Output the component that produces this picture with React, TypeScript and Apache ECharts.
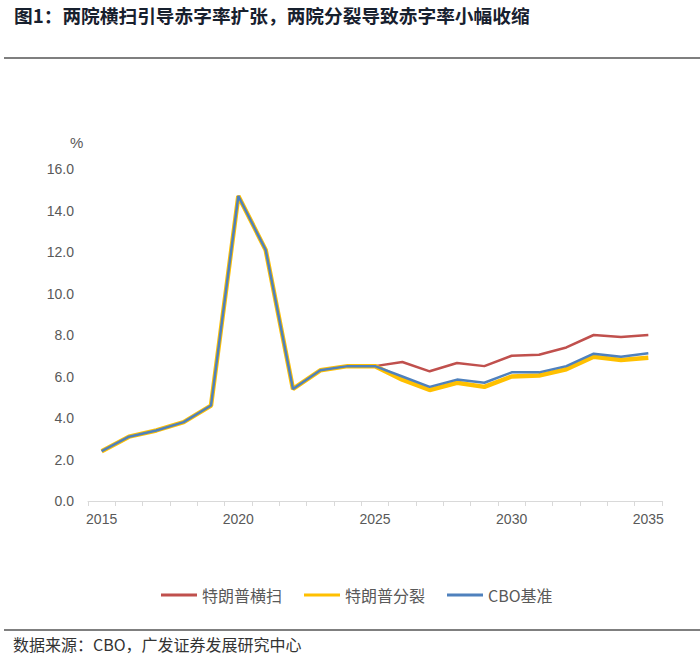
import React, { useEffect, useRef } from "react";
import * as echarts from "echarts";

const years = [
  "2015", "2016", "2017", "2018", "2019", "2020", "2021", "2022", "2023", "2024", "2025",
  "2026", "2027", "2028", "2029", "2030", "2031", "2032", "2033", "2034", "2035",
];
const common = [2.4, 3.1, 3.4, 3.8, 4.6, 14.7, 12.1, 5.4, 6.3, 6.5, 6.5];
const sweep = [6.7, 6.25, 6.65, 6.5, 7.0, 7.05, 7.4, 8.0, 7.9, 8.0];
const split = [5.85, 5.35, 5.7, 5.5, 6.0, 6.05, 6.35, 6.95, 6.8, 6.9];
const baseline = [6.0, 5.5, 5.85, 5.7, 6.2, 6.2, 6.5, 7.1, 6.95, 7.12];
const yTicks = { min: 0, max: 16, interval: 2 };

const seriesNames = ["特朗普横扫", "特朗普分裂", "CBO基准"];
const colors = ["#C0504D", "#FFC000", "#4F81BD"];

export default function App() {
  const ref = useRef<HTMLDivElement>(null);
  useEffect(() => {
    if (!ref.current) return;
    const chart = echarts.init(ref.current, null, { renderer: "svg" });
    const font = "'Noto Sans CJK SC', 'Liberation Sans', Arial, sans-serif";
    chart.setOption({
      animation: false,
      backgroundColor: "#ffffff",
      grid: { left: 88, right: 38, top: 169, bottom: 160, containLabel: false },
      legend: {
        data: seriesNames,
        top: 582,
        left: 156,
        icon: "rect",
        itemWidth: 36,
        itemHeight: 3,
        itemGap: 22,
        textStyle: { color: "#595959", fontSize: 16, fontFamily: font },
      },
      xAxis: {
        type: "category",
        data: years,
        boundaryGap: true,
        axisLine: { lineStyle: { color: "#d9d9d9", width: 1 } },
        axisTick: { show: true, interval: 0, length: 5, lineStyle: { color: "#d9d9d9" } },
        axisLabel: {
          interval: 4,
          color: "#595959",
          fontSize: 14,
          fontFamily: "'Liberation Sans', Arial, sans-serif",
          margin: 11,
        },
        splitLine: { show: false },
      },
      yAxis: {
        type: "value",
        min: yTicks.min,
        max: yTicks.max,
        interval: yTicks.interval,
        axisLine: { show: false },
        axisTick: { show: false },
        splitLine: { show: false },
        axisLabel: {
          color: "#595959",
          fontSize: 14,
          fontFamily: "'Liberation Sans', Arial, sans-serif",
          margin: 14,
          formatter: (v: number) => v.toFixed(1),
        },
      },
      graphic: [
        {
          type: "text",
          left: 14,
          top: 5,
          style: {
            text: "图1：两院横扫引导赤字率扩张，两院分裂导致赤字率小幅收缩",
            fontSize: 18.7,
            fontWeight: "bold",
            fill: "#17202e",
            fontFamily: font,
          },
        },
        {
          type: "rect",
          shape: { x: 4, y: 57, width: 696, height: 2 },
          style: { fill: "#7f7f7f" },
        },
        {
          type: "text",
          left: 70,
          top: 135,
          style: { text: "%", fontSize: 15, fill: "#595959", fontFamily: "'Liberation Sans', Arial, sans-serif" },
        },
        {
          type: "rect",
          shape: { x: 4, y: 629, width: 696, height: 2 },
          style: { fill: "#7f7f7f" },
        },
        {
          type: "text",
          left: 13,
          top: 636,
          style: {
            text: "数据来源：CBO，广发证券发展研究中心",
            fontSize: 16,
            fill: "#333333",
            fontFamily: font,
          },
        },
      ],
      series: [
        {
          name: seriesNames[0],
          type: "line",
          data: [...common, ...sweep],
          symbol: "none",
          lineStyle: { color: colors[0], width: 2.5 },
          itemStyle: { color: colors[0] },
          z: 2,
        },
        {
          name: seriesNames[1],
          type: "line",
          data: [...common, ...split],
          symbol: "none",
          lineStyle: { color: colors[1], width: 4.5 },
          itemStyle: { color: colors[1] },
          z: 3,
        },
        {
          name: seriesNames[2],
          type: "line",
          data: [...common, ...baseline],
          symbol: "none",
          lineStyle: { color: colors[2], width: 2.5 },
          itemStyle: { color: colors[2] },
          z: 4,
        },
      ],
    });
    return () => chart.dispose();
  }, []);
  return <div ref={ref} style={{ width: 700, height: 661, position: "absolute", left: 0, top: 0 }} />;
}
